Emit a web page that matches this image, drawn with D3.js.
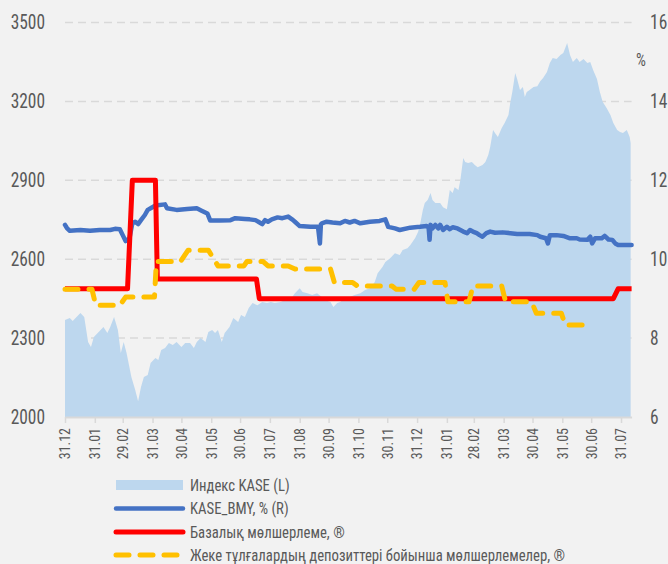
<!DOCTYPE html>
<html><head><meta charset="utf-8">
<script src="https://cdn.jsdelivr.net/npm/d3@7"></script>
<style>
html,body{margin:0;padding:0;background:#f2f2f2;}
svg text{font-family:'Liberation Sans Narrow','Roboto Condensed','DejaVu Sans Condensed',sans-serif;fill:#595959;}
</style></head><body>
<svg id="chart" width="668" height="564"></svg>
<script>
// ---- DATA ----
const kaseIndex = [
["2019-12-31",2369],["2020-01-05",2376],["2020-01-08",2365],["2020-01-14",2388],["2020-01-16",2395],["2020-01-20",2380],
["2020-01-24",2285],["2020-01-27",2266],["2020-01-30",2304],["2020-02-04",2323],["2020-02-09",2342],["2020-02-13",2319],
["2020-02-16",2342],["2020-02-20",2380],["2020-02-24",2331],["2020-02-27",2243],["2020-03-01",2285],["2020-03-04",2243],
["2020-03-09",2152],["2020-03-13",2103],["2020-03-16",2060],["2020-03-19",2114],["2020-03-22",2152],["2020-03-26",2160],
["2020-03-29",2205],["2020-04-03",2224],["2020-04-06",2217],["2020-04-09",2255],["2020-04-13",2262],["2020-04-17",2281],
["2020-04-21",2274],["2020-04-25",2285],["2020-04-30",2266],["2020-05-04",2281],["2020-05-09",2281],["2020-05-13",2262],
["2020-05-16",2285],["2020-05-20",2300],["2020-05-25",2285],["2020-05-28",2323],["2020-06-01",2331],["2020-06-04",2319],
["2020-06-07",2331],["2020-06-11",2285],["2020-06-14",2319],["2020-06-19",2342],["2020-06-23",2376],["2020-06-28",2361],
["2020-07-01",2388],["2020-07-05",2380],["2020-07-09",2414],["2020-07-13",2433],["2020-07-18",2425],["2020-07-23",2437],
["2020-07-28",2433],["2020-08-01",2437],["2020-08-05",2433],["2020-08-11",2437],["2020-08-16",2445],["2020-08-21",2445],
["2020-08-26",2471],["2020-08-31",2490],["2020-09-03",2475],["2020-09-08",2471],["2020-09-13",2464],["2020-09-18",2471],
["2020-09-23",2456],["2020-09-26",2445],["2020-10-02",2437],["2020-10-05",2418],["2020-10-09",2433],["2020-10-12",2437],
["2020-10-17",2452],["2020-10-22",2456],["2020-10-27",2464],["2020-11-02",2471],["2020-11-07",2483],["2020-11-12",2490],
["2020-11-17",2513],["2020-11-20",2547],["2020-11-25",2570],["2020-11-28",2589],["2020-12-03",2604],["2020-12-08",2623],
["2020-12-13",2616],["2020-12-16",2635],["2020-12-21",2642],["2020-12-24",2654],["2020-12-29",2681],["2021-01-01",2703],
["2021-01-03",2730],["2021-01-06",2787],["2021-01-08",2814],["2021-01-11",2825],["2021-01-14",2852],["2021-01-16",2825],
["2021-01-19",2814],["2021-01-24",2814],["2021-01-27",2798],["2021-01-31",2790],["2021-02-03",2863],["2021-02-06",2852],
["2021-02-08",2874],["2021-02-12",2863],["2021-02-14",2901],["2021-02-17",2985],["2021-02-19",2970],["2021-02-22",2966],
["2021-02-26",2970],["2021-03-01",2958],["2021-03-04",2950],["2021-03-09",2958],["2021-03-12",2970],["2021-03-15",2996],
["2021-03-17",3027],["2021-03-20",3091],["2021-03-22",3080],["2021-03-25",3065],["2021-03-29",3099],["2021-04-01",3118],
["2021-04-05",3148],["2021-04-07",3198],["2021-04-09",3236],["2021-04-12",3308],["2021-04-14",3285],["2021-04-17",3243],
["2021-04-20",3255],["2021-04-22",3217],["2021-04-24",3236],["2021-04-27",3243],["2021-05-01",3255],["2021-05-05",3258],
["2021-05-08",3277],["2021-05-11",3289],["2021-05-15",3312],["2021-05-18",3346],["2021-05-21",3365],["2021-05-25",3361],
["2021-05-29",3376],["2021-06-01",3384],["2021-06-03",3403],["2021-06-05",3422],["2021-06-08",3376],["2021-06-11",3350],
["2021-06-15",3365],["2021-06-18",3350],["2021-06-22",3361],["2021-06-26",3346],["2021-06-29",3350],["2021-07-02",3319],
["2021-07-06",3285],["2021-07-09",3236],["2021-07-12",3198],["2021-07-16",3175],["2021-07-20",3148],["2021-07-23",3118],
["2021-07-27",3091],["2021-07-30",3084],["2021-08-02",3080],["2021-08-06",3091],["2021-08-09",3065],["2021-08-10",3042]
];
const kaseBmy = [
["2019-12-31",10.87],["2020-01-02",10.79],["2020-01-05",10.72],["2020-01-16",10.74],["2020-01-26",10.72],["2020-02-05",10.74],
["2020-02-16",10.74],["2020-02-21",10.77],["2020-02-26",10.76],["2020-02-29",10.61],["2020-03-03",10.46],["2020-03-07",10.53],
["2020-03-10",10.91],["2020-03-13",10.95],["2020-03-16",10.89],["2020-03-19",10.99],["2020-03-23",11.12],["2020-03-26",11.25],
["2020-03-29",11.29],["2020-04-03",11.36],["2020-04-13",11.39],["2020-04-15",11.29],["2020-04-25",11.25],["2020-05-06",11.27],
["2020-05-16",11.29],["2020-05-21",11.23],["2020-05-27",11.16],["2020-05-30",10.98],["2020-06-09",10.98],["2020-06-20",10.99],
["2020-06-25",11.04],["2020-07-05",11.02],["2020-07-10",11.01],["2020-07-16",10.99],["2020-07-19",10.95],["2020-07-23",10.89],
["2020-07-26",10.99],["2020-07-29",10.95],["2020-08-02",11.01],["2020-08-08",11.06],["2020-08-13",11.04],["2020-08-19",11.08],
["2020-08-23",11.01],["2020-08-26",10.95],["2020-08-31",10.84],["2020-09-11",10.82],["2020-09-19",10.82],["2020-09-21",10.40],
["2020-09-22",10.88],["2020-09-23",10.91],["2020-09-28",10.95],["2020-10-04",10.93],["2020-10-12",10.91],["2020-10-17",10.97],
["2020-10-22",10.93],["2020-10-27",10.97],["2020-11-02",10.91],["2020-11-12",10.95],["2020-11-22",10.97],["2020-11-28",11.01],
["2020-12-01",10.82],["2020-12-08",10.78],["2020-12-13",10.74],["2020-12-24",10.80],["2021-01-03",10.82],["2021-01-10",10.84],
["2021-01-12",10.80],["2021-01-13",10.49],["2021-01-14",10.87],["2021-01-16",10.78],["2021-01-19",10.87],["2021-01-22",10.78],
["2021-01-24",10.87],["2021-01-27",10.74],["2021-01-31",10.82],["2021-02-03",10.76],["2021-02-06",10.81],["2021-02-11",10.78],
["2021-02-14",10.74],["2021-02-17",10.70],["2021-02-21",10.66],["2021-02-24",10.74],["2021-02-27",10.70],["2021-03-03",10.66],
["2021-03-06",10.61],["2021-03-09",10.57],["2021-03-13",10.66],["2021-03-17",10.70],["2021-03-22",10.67],["2021-03-30",10.68],
["2021-04-07",10.66],["2021-04-14",10.64],["2021-04-20",10.64],["2021-04-27",10.64],["2021-05-05",10.61],["2021-05-08",10.57],
["2021-05-14",10.53],["2021-05-16",10.40],["2021-05-18",10.61],["2021-05-25",10.61],["2021-06-01",10.59],["2021-06-08",10.53],
["2021-06-15",10.53],["2021-06-18",10.50],["2021-06-26",10.49],["2021-06-29",10.57],["2021-07-01",10.40],["2021-07-04",10.53],
["2021-07-11",10.53],["2021-07-14",10.59],["2021-07-18",10.50],["2021-07-22",10.49],["2021-07-25",10.40],["2021-07-28",10.36],
["2021-08-02",10.36],["2021-08-11",10.36]
];
const baseRate = [
["2019-12-31",9.25],["2020-03-05",9.25],["2020-03-10",12.0],["2020-04-03",12.0],["2020-04-05",9.5],
["2020-07-17",9.5],["2020-07-20",9.0],["2021-07-23",9.0],["2021-07-28",9.25],["2021-08-11",9.25]
];
const depositRate = [
["2019-12-31",9.24],["2020-01-28",9.24],["2020-02-01",8.83],["2020-02-26",8.83],["2020-03-03",9.04],["2020-04-02",9.04],
["2020-04-04",9.94],["2020-04-29",9.94],["2020-05-07",10.23],["2020-05-28",10.23],["2020-06-07",9.83],["2020-07-04",9.83],
["2020-07-07",9.94],["2020-07-24",9.94],["2020-07-29",9.83],["2020-08-19",9.83],["2020-08-26",9.75],["2020-10-02",9.75],
["2020-10-06",9.41],["2020-10-25",9.41],["2020-10-30",9.32],["2020-12-05",9.32],["2020-12-09",9.24],["2020-12-28",9.24],
["2021-01-02",9.41],["2021-01-29",9.41],["2021-02-01",8.92],["2021-02-23",8.92],["2021-02-27",9.32],["2021-03-29",9.32],
["2021-04-02",8.92],["2021-04-29",8.92],["2021-05-04",8.63],["2021-05-30",8.63],["2021-06-03",8.33],["2021-06-24",8.33]
];
const tickDates = ["2019-12-31","2020-01-31","2020-02-29","2020-03-31","2020-04-30","2020-05-31","2020-06-30","2020-07-31",
"2020-08-31","2020-09-30","2020-10-31","2020-11-30","2020-12-31","2021-01-31","2021-02-28","2021-03-31","2021-04-30",
"2021-05-31","2021-06-30","2021-07-31"];
const tickLabels = ["31.12","31.01","29.02","31.03","30.04","31.05","30.06","31.07","31.08","30.09","31.10","30.11","31.12",
"31.01","28.02","31.03","30.04","31.05","30.06","31.07"];
const leftTicks = [2000,2300,2600,2900,3200,3500];
const rightTicks = [6,8,10,12,14,16];
const legendLabels = ["Индекс KASE (L)","KASE_BMY, % (R)","Базалық мөлшерлеме, ®","Жеке тұлғалардың депозиттері бойынша мөлшерлемелер, ®"];

// ---- CHART ----
const parse = d3.timeParse("%Y-%m-%d");
const svg = d3.select("#chart");
const x = d3.scaleTime().domain([parse("2019-12-31"), parse("2021-08-11")]).range([65, 631.6]);
const yL = d3.scaleLinear().domain([2000, 3500]).range([417, 22.5]);
const yR = d3.scaleLinear().domain([6, 16]).range([417, 22.5]);
const gridColor = "#d9d9d9";
const squeeze = 0.87;

// grid
svg.append("g").selectAll("line").data(leftTicks.filter(v => v > 2000)).join("line")
  .attr("x1", x.range()[0]).attr("x2", x.range()[1])
  .attr("y1", d => yL(d)).attr("y2", d => yL(d))
  .attr("stroke", gridColor).attr("stroke-width", 1.5).attr("stroke-dasharray", "8,5");

// area
const kd = kaseIndex.map(d => ({date: parse(d[0]), v: d[1]}));
svg.append("path").datum(kd)
  .attr("fill", "#bdd7ee")
  .attr("d", d3.area().x(d => x(d.date)).y0(yL(2000)).y1(d => yL(d.v)));

// axes
const xAxis = svg.append("g").attr("transform", `translate(0,${yL(2000)})`)
  .call(d3.axisBottom(x).tickValues(tickDates.map(parse)).tickFormat((d, i) => tickLabels[i]).tickSize(6).tickSizeOuter(0));
xAxis.select(".domain").attr("stroke", gridColor).attr("stroke-width", 2);
xAxis.selectAll(".tick line").attr("stroke", gridColor).attr("stroke-width", 1.5);
xAxis.selectAll(".tick text").attr("transform", "rotate(-90)").attr("x", -11).attr("y", 0).attr("dy", "0.35em")
  .attr("text-anchor", "end").style("font-size", "14px").attr("fill", "#595959");

const lAxis = svg.append("g").attr("transform", `translate(${x.range()[0]},0)`)
  .call(d3.axisLeft(yL).tickValues(leftTicks).tickSize(0).tickFormat(d3.format("d")));
lAxis.select(".domain").remove();
lAxis.selectAll("text").attr("x", 0).attr("transform", `translate(-20,0) scale(${squeeze},1)`)
  .style("font-size", "20px").attr("fill", "#595959");

const rAxis = svg.append("g").attr("transform", `translate(${x.range()[1]},0)`)
  .call(d3.axisRight(yR).tickValues(rightTicks).tickSize(0));
rAxis.select(".domain").remove();
rAxis.selectAll("text").attr("x", 0).attr("transform", `translate(18.5,0) scale(${squeeze},1)`)
  .style("font-size", "20px").attr("fill", "#595959");

svg.append("text").attr("transform", `translate(641,60) scale(${squeeze},1)`).attr("dy", "0.35em").attr("text-anchor", "middle")
  .style("font-size", "18px").text("%");

// lines
const lineR = d3.line().x(d => x(d.date)).y(d => yR(d.v));
const toPts = arr => arr.map(d => ({date: parse(d[0]), v: d[1]}));
svg.append("path").datum(toPts(kaseBmy)).attr("fill", "none").attr("stroke", "#4472c4")
  .attr("stroke-width", 4.5).attr("stroke-linejoin", "round").attr("stroke-linecap", "round").attr("d", lineR);
svg.append("path").datum(toPts(baseRate)).attr("fill", "none").attr("stroke", "#ff0000")
  .attr("stroke-width", 5).attr("stroke-linejoin", "round").attr("d", lineR);
svg.append("path").datum(toPts(depositRate)).attr("fill", "none").attr("stroke", "#ffc000")
  .attr("stroke-width", 5).attr("stroke-linecap", "round").attr("stroke-linejoin", "round")
  .attr("stroke-dasharray", "13,11").attr("d", lineR);

// legend
const lg = svg.append("g");
const rowsY = [485, 508.5, 532, 555];
lg.append("rect").attr("x", 116).attr("y", rowsY[0] - 5).attr("width", 67).attr("height", 10).attr("fill", "#bdd7ee");
lg.append("line").attr("x1", 116).attr("x2", 183).attr("y1", rowsY[1]).attr("y2", rowsY[1])
  .attr("stroke", "#4472c4").attr("stroke-width", 4.5).attr("stroke-linecap", "round");
lg.append("line").attr("x1", 116).attr("x2", 183).attr("y1", rowsY[2]).attr("y2", rowsY[2])
  .attr("stroke", "#ff0000").attr("stroke-width", 5).attr("stroke-linecap", "round");
lg.append("line").attr("x1", 116).attr("x2", 183).attr("y1", rowsY[3]).attr("y2", rowsY[3])
  .attr("stroke", "#ffc000").attr("stroke-width", 5).attr("stroke-linecap", "round").attr("stroke-dasharray", "13,11");
lg.selectAll("text").data(legendLabels).join("text")
  .attr("transform", (d, i) => `translate(190,${rowsY[i]}) scale(0.92,1)`).attr("dy", "0.35em")
  .style("font-size", "16px").text(d => d);
</script>
</body></html>
